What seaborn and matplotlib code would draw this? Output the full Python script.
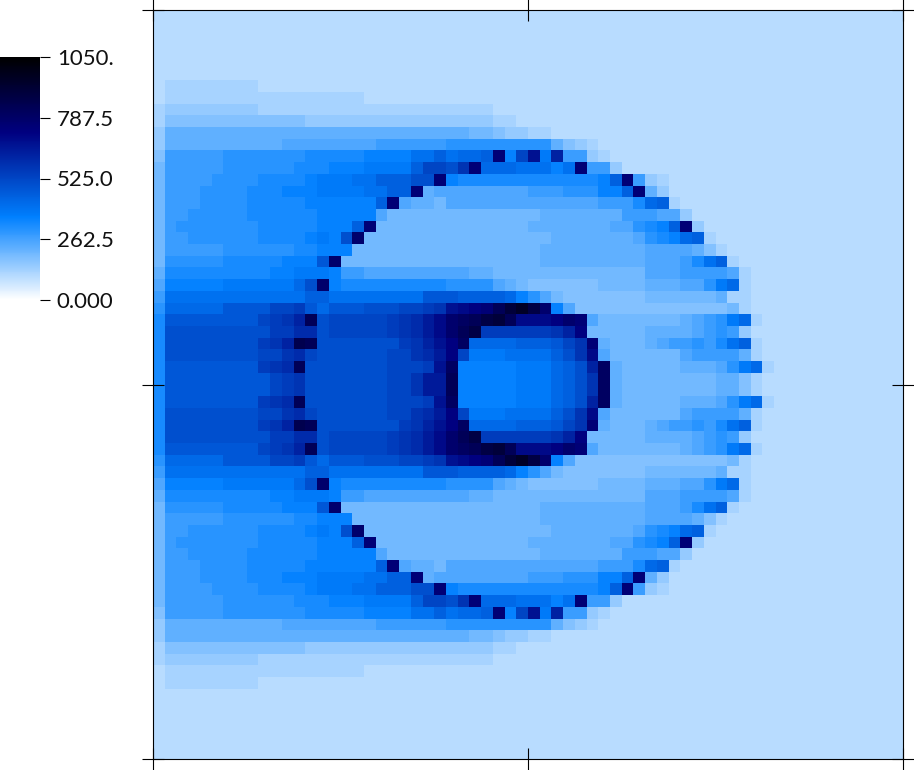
import numpy as np
import matplotlib
matplotlib.use("Agg")
import matplotlib.pyplot as plt
from matplotlib.colors import LinearSegmentedColormap
import seaborn as sns

# levels, one char per cell, top half only (field is mirrored about the middle row)
level_chars = "0123456789abcdefghijklmnopqrstuvwxyzABCDEFGH"
level_step = 25
n_cells = 64
background = "4"

top_rows = [
    "",
    "",
    "",
    "",
    "",
    "",
    "455555555",
    "455555555555555555",
    "56666666655555555555555555555",
    "5777777777777666666666666666655",
    "6999999999999999999999999998876655",
    "69999999999aaaaaaaabbbbbbccccccccc9765",
    "7bbbbbcccccccdddddeeeeggighhiuelrfpbb65",
    "8bbbbbccccccdddeeeffffill" + "knuhhhgggegubb6",
    "8bbbbccccddddefffggiiikku" + "eddddddddddddeiub65",
    "8bbbccccdddeeeffffggiiu9a" + "aaaaaaabbbccceeiu96",
    "8bbbccccdddddeeeeeeiua998" + "aaaaaaaaaaaaabbbdhi5",
    "8bbcccccddddddeeeeea88888" + "888888889999999bbbaa6",
    "8bcccccccdddddeeeiu888888" + "88888889999999aacdeiu6",
    "8bbccccccddddefekv8888888" + "8888888889999999acdehi5",
    "8bbbbbccccccddeee88888888" + "88888888999999999aaaa975",
    "8cccccdddddeeejv888888888" + "88888888999999999aaabdgi5",
    "9dddddddddeefffebbaaaaaaa" + "aa998888888888888aaabbbba5",
    "aeeeeeffffffhkveddddddddd" + "cccca987777778888999aacfh5",
    "bggggggggggggiiggggggggjj"[:24] + "j" + "jiiiiheca87777777888888955",
    "chhhhhjjjjllmjhjjjkkkllmn" + "rstuxACzvea7" + "77777" + "7777777" + "85",
    "djjjjjjjjlmnpxklllllmnoqs" + "vwxzAxssstvua" + "8888888" + "9abcfh5",
    "dkkkkkkkkkmmooklllllmnoqs" + "vxzmmmmmmnpt8" + "8888" + "9999" + "abcb6",
    "dkkkkkkkkmnpyxkkkkkkkmnpr" + "twhhhhiiijlnu9" + "888" + "9abbcbdgi5",
    "dkkkkkkkkllnolkkkkkkllnoq" + "tlfffggggiknsa" + "888888" + "abbbb95",
    "djjjjjjjjmnoxkkkkkkklllmr" + "weeeeefffhikpw9" + "88888" + "999acfh5",
    "djjjjjjjjjlmnkkkkkkkllnq" + "q" + "xeeeeefffhiknw9" + "88888888" + "9975",
]

# colorbar labels as printed in the picture
cbar_values = [0, 262.5, 525, 787.5, 1050]
cbar_labels = ["0.000", "262.5", "525.0", "787.5", "1050."]

cmap = LinearSegmentedColormap.from_list(
    "blues_black",
    [(0.0, "#ffffff"), (0.34, "#0080ff"), (0.69, "#000080"), (1.0, "#000000")],
    N=256,
)

def decode(row):
    row = row.ljust(n_cells, background)[:n_cells]
    return [level_chars.index(c) * level_step for c in row]

top = np.array([decode(r) for r in top_rows], dtype=float)
field = np.vstack([top, top[::-1]])

W, H = 914, 770
fig = plt.figure(figsize=(W / 100, H / 100), dpi=100)
ax = fig.add_axes([153 / W, (H - 759) / H, 750 / W, 749 / H])
cax = fig.add_axes([0, (H - 300) / H, 40 / W, 243 / H])

sns.heatmap(
    field, ax=ax, cbar_ax=cax, cmap=cmap, vmin=0, vmax=1050,
    xticklabels=False, yticklabels=False,
    cbar_kws={"ticks": cbar_values},
)

# frame and the crossing ticks
for s in ax.spines.values():
    s.set_visible(True)
    s.set_color("black")
    s.set_linewidth(0.8)
ax.set_xticks([0, n_cells / 2, n_cells])
ax.set_yticks([0, n_cells / 2, n_cells])
ax.set_xticklabels([])
ax.set_yticklabels([])
ax.tick_params(axis="both", which="major", direction="inout", length=15.5, width=0.8,
               top=True, bottom=True, left=True, right=True)

cb = ax.collections[0].colorbar
cb.outline.set_visible(False)
cb.ax.set_yticklabels(cbar_labels, family="Lato", fontsize=16, ha="right", color="#111111")
cb.ax.tick_params(axis="y", length=7.5, width=0.8, pad=45.5)

fig.savefig("out.png", dpi=100)
